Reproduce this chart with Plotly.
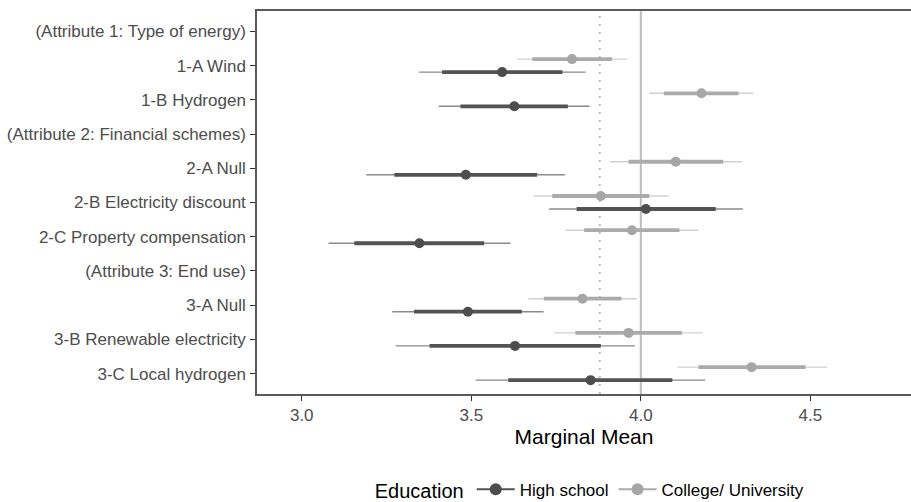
import plotly.graph_objects as go

labels = ["(Attribute 1: Type of energy)", "1-A Wind", "1-B Hydrogen",
          "(Attribute 2: Financial schemes)", "2-A Null", "2-B Electricity discount",
          "2-C Property compensation", "(Attribute 3: End use)", "3-A Null",
          "3-B Renewable electricity", "3-C Local hydrogen"]

hs_mean = [None, 3.591, 3.627, None, 3.484, 4.015, 3.347, None, 3.490, 3.629, 3.852]
hs_lo95 = [None, 3.346, 3.404, None, 3.190, 3.730, 3.079, None, 3.267, 3.277, 3.513]
hs_hi95 = [None, 3.837, 3.849, None, 3.776, 4.301, 3.616, None, 3.713, 3.983, 4.190]
hs_lo_in = [None, 3.414, 3.468, None, 3.273, 3.811, 3.155, None, 3.331, 3.377, 3.609]
hs_hi_in = [None, 3.769, 3.785, None, 3.694, 4.221, 3.538, None, 3.649, 3.882, 4.093]

cu_mean = [None, 3.797, 4.179, None, 4.103, 3.882, 3.974, None, 3.828, 3.964, 4.327]
cu_lo95 = [None, 3.635, 4.025, None, 3.909, 3.683, 3.778, None, 3.668, 3.745, 4.108]
cu_hi95 = [None, 3.961, 4.332, None, 4.299, 4.082, 4.169, None, 3.989, 4.183, 4.550]
cu_lo_in = [None, 3.680, 4.068, None, 3.964, 3.739, 3.833, None, 3.714, 3.807, 4.170]
cu_hi_in = [None, 3.915, 4.288, None, 4.243, 4.025, 4.114, None, 3.943, 4.121, 4.486]

overall_mean = 3.879
ref_value = 4.0
x_ticks = [3.0, 3.5, 4.0, 4.5]

FONT = "Liberation Sans, Arial, sans-serif"

groups = [
    dict(name="High school", mean=hs_mean, lo95=hs_lo95, hi95=hs_hi95,
         lo_in=hs_lo_in, hi_in=hs_hi_in, off=0.19,
         c_pt="#4d4d4d", c_thick="#535353", c_thin="#8a8a8a"),
    dict(name="College/ University", mean=cu_mean, lo95=cu_lo95, hi95=cu_hi95,
         lo_in=cu_lo_in, hi_in=cu_hi_in, off=-0.19,
         c_pt="#a6a6a6", c_thick="#ababab", c_thin="#d0d0d0"),
]

fig = go.Figure()

for g in groups:
    thin_x, thin_y, thick_x, thick_y, px, py = [], [], [], [], [], []
    for i in range(len(labels)):
        if g["mean"][i] is None:
            continue
        yy = i + g["off"]
        thin_x += [g["lo95"][i], g["hi95"][i], None]
        thin_y += [yy, yy, None]
        thick_x += [g["lo_in"][i], g["hi_in"][i], None]
        thick_y += [yy, yy, None]
        px.append(g["mean"][i])
        py.append(yy)
    fig.add_trace(go.Scatter(x=thin_x, y=thin_y, mode="lines",
                             line=dict(color=g["c_thin"], width=1.4),
                             showlegend=False, hoverinfo="skip"))
    fig.add_trace(go.Scatter(x=thick_x, y=thick_y, mode="lines",
                             line=dict(color=g["c_thick"], width=3.8),
                             showlegend=False, hoverinfo="skip"))
    fig.add_trace(go.Scatter(x=px, y=py, mode="markers",
                             marker=dict(color=g["c_pt"], size=10),
                             showlegend=False, name=g["name"]))

for g in groups:
    fig.add_trace(go.Scatter(x=[None], y=[None], mode="lines+markers",
                             name=g["name"],
                             line=dict(color=g["c_thick"], width=2),
                             marker=dict(color=g["c_pt"], size=12)))

fig.add_shape(type="line", xref="x", yref="paper", x0=overall_mean, x1=overall_mean,
              y0=0, y1=1, layer="below",
              line=dict(color="#bdbdbd", width=2, dash="2px,6px"))
fig.add_shape(type="line", xref="x", yref="paper", x0=ref_value, x1=ref_value,
              y0=0, y1=1, layer="below",
              line=dict(color="#bcbcbc", width=2))

fig.update_layout(
    width=911, height=502,
    margin=dict(l=257, r=0, t=11, b=108, autoexpand=False),
    paper_bgcolor="white", plot_bgcolor="white",
    font=dict(family=FONT, size=17, color="#4d4d4d"),
    legend=dict(orientation="h", x=0.177, xanchor="left", y=-0.25, yanchor="middle",
                itemwidth=38,
                title=dict(text="Education", side="left",
                           font=dict(size=20, color="#000000")),
                font=dict(size=17, color="#000000")),
    xaxis=dict(range=[2.868, 4.797], tickvals=x_ticks,
               ticktext=[f"{v:.1f}" for v in x_ticks],
               showgrid=False, zeroline=False,
               showline=True, mirror=True, linecolor="#5a5a5a", linewidth=1.5,
               ticks="outside", ticklen=5, tickwidth=1.3, tickcolor="#333333",
               tickfont=dict(size=17, color="#4d4d4d"),
               title=dict(text="Marginal Mean", font=dict(size=21, color="#000000"),
                          standoff=4)),
    yaxis=dict(range=[10.595, -0.595], tickvals=list(range(len(labels))),
               ticktext=labels, showgrid=False, zeroline=False,
               showline=True, mirror=False, linecolor="#5a5a5a", linewidth=1.5,
               ticks="outside", ticklen=5, tickwidth=1.3, tickcolor="#333333",
               ticklabelstandoff=1,
               tickfont=dict(size=17, color="#4d4d4d")),
)

fig.write_html("out.html", config={"displayModeBar": False},
               post_script="document.body.style.margin='0';document.body.style.overflow='hidden';")
